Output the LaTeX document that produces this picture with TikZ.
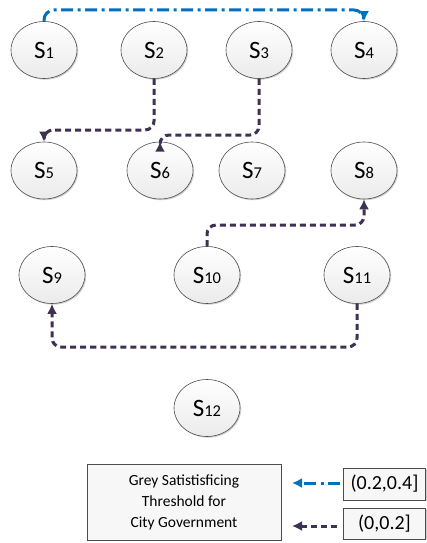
\documentclass[tikz,border=0pt]{standalone}
\usepackage{fontspec}
\setmainfont{Carlito}
\usetikzlibrary{shapes.geometric,shadows,arrows.meta}
\definecolor{purp}{HTML}{3F3151}
\definecolor{blu}{HTML}{0070C0}
\newcommand\Sn[1]{{\fontsize{25}{25}\selectfont S}{\fontsize{16.5}{16.5}\selectfont #1}}
\tikzset{
  st/.style={ellipse, draw=black!70, line width=0.6pt, top color=white, bottom color=black!8,
    minimum width=66pt, minimum height=57pt, inner sep=0pt,
    drop shadow={shadow xshift=1.2pt, shadow yshift=-1.2pt, opacity=0.3, fill=black!60}},
  pline/.style={draw=purp, line width=3pt, dash pattern=on 6pt off 4pt, rounded corners=9pt,
    -{Latex[length=10pt,width=10pt]}},
  bline/.style={draw=blu, line width=3pt, dash pattern=on 12pt off 4.5pt on 3pt off 4.5pt, rounded corners=10pt,
    -{Latex[length=10pt,width=10pt]}},
  lbox/.style={draw=black!70, line width=0.6pt, fill=white!97!black, inner sep=0pt,
    drop shadow={shadow xshift=1.2pt, shadow yshift=-1.2pt, opacity=0.3, fill=black!60}},
}
\begin{document}
\begin{tikzpicture}[x=1pt,y=-1pt]
\useasboundingbox (0,0) rectangle (427,543);
\node[st] (s1) at (44,50) {\Sn{1}};
\node[st] (s2) at (154,50) {\Sn{2}};
\node[st] (s3) at (259,50) {\Sn{3}};
\node[st] (s4) at (364,50) {\Sn{4}};
\node[st] (s5) at (44,170.5) {\Sn{5}};
\node[st] (s6) at (160,170.5) {\Sn{6}};
\node[st] (s7) at (252,170.5) {\Sn{7}};
\node[st] (s8) at (364,170.5) {\Sn{8}};
\node[st] (s9) at (52,275) {\Sn{9}};
\node[st] (s10) at (207,275) {\Sn{10}};
\node[st] (s11) at (357,275) {\Sn{11}};
\node[st] (s12) at (207,408) {\Sn{12}};

\draw[bline] (s1.north) -- (s1.north |- 0,10) -- (s4.north |- 0,10) -- (s4.north);
\draw[pline] (s2.south) -- (s2.south |- 0,130) -- (s5.north |- 0,130) -- (s5.north);
\draw[pline] (s3.south) -- (s3.south |- 0,135) -- (s6.north |- 0,135) -- (s6.north);
\draw[pline] (s10.north) -- (s10.north |- 0,225) -- (s8.south |- 0,225) -- (s8.south);
\draw[pline] (s11.south) -- (s11.south |- 0,347) -- (s9.south |- 0,347) -- (s9.south);

\node[lbox, minimum width=194pt, minimum height=76pt, align=center,
  font=\fontsize{15.5}{21}\selectfont] (leg) at (184,502)
  {Grey Satistisficing\\Threshold for\\City Government};
\node[lbox, minimum width=82pt, minimum height=32pt, font=\fontsize{20}{22}\selectfont] (b1) at (384.5,484) {(0.2,0.4]};
\node[lbox, minimum width=82pt, minimum height=31pt, font=\fontsize{20}{22}\selectfont] (b2) at (384.5,523.5) {(0,0.2]};
\coordinate (a1) at (292,483);
\coordinate (a2) at (292,526);
\draw[bline] (b1.west |- a1) ++(-3,0) -- (a1);
\draw[pline] (b2.west |- a2) ++(-6,0) -- (a2);
\end{tikzpicture}
\end{document}
